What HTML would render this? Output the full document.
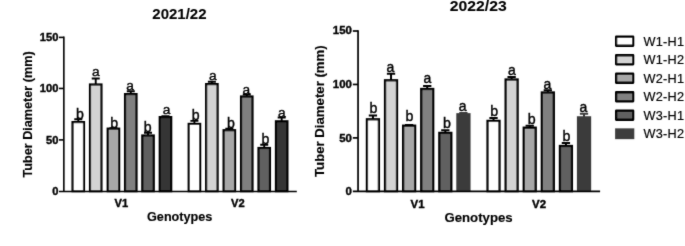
<!DOCTYPE html>
<html><head><meta charset="utf-8"><title>Tuber Diameter</title>
<style>
html,body{margin:0;padding:0;background:#fff;}
svg{display:block;font-family:"Liberation Sans",Arial,sans-serif;fill:#000;}
text{stroke:#000;stroke-width:0.4px;}
</style></head>
<body>
<svg width="685" height="246" viewBox="0 0 685 246">
<defs><filter id="soft" x="0" y="0" width="685" height="246" filterUnits="userSpaceOnUse"><feConvolveMatrix order="3" kernelMatrix="0.02 0.07 0.02 0.07 0.64 0.07 0.02 0.07 0.02" edgeMode="duplicate" preserveAlpha="false"/></filter></defs>
<rect width="685" height="246" fill="#fff"/>
<g filter="url(#soft)">
<g id="chart1">
<path d="M78.28 122.1V119.3M74.28 119.3H82.28" stroke="#000" stroke-width="1.9" fill="none"/>
<rect x="72.55" y="122.1" width="11.45" height="69.05" fill="#ffffff" stroke="#000" stroke-width="2.2"/>
<text x="79.9" y="118.7" font-size="14.1" text-anchor="middle">b</text>
<path d="M95.73 84.5V78.45M91.73 78.45H99.73" stroke="#000" stroke-width="1.9" fill="none"/>
<rect x="90" y="84.5" width="11.45" height="106.65" fill="#d3d3d3" stroke="#000" stroke-width="2.2"/>
<text x="95.75" y="75.6" font-size="13.7" text-anchor="middle">a</text>
<path d="M113.42 128.65V128.2M109.42 128.2H117.42" stroke="#000" stroke-width="1.9" fill="none"/>
<rect x="107.7" y="128.65" width="11.45" height="62.5" fill="#a7a7a7" stroke="#000" stroke-width="2.2"/>
<text x="114.05" y="127.5" font-size="14.1" text-anchor="middle">b</text>
<path d="M130.78 94.1V91.3M126.78 91.3H134.78" stroke="#000" stroke-width="1.9" fill="none"/>
<rect x="125.05" y="94.1" width="11.45" height="97.05" fill="#808080" stroke="#000" stroke-width="2.2"/>
<text x="130.1" y="90.1" font-size="13.7" text-anchor="middle">a</text>
<path d="M148.02 135.5V132.8M144.02 132.8H152.02" stroke="#000" stroke-width="1.9" fill="none"/>
<rect x="142.3" y="135.5" width="11.45" height="55.65" fill="#606060" stroke="#000" stroke-width="2.2"/>
<text x="147.55" y="132" font-size="14.1" text-anchor="middle">b</text>
<path d="M165.47 117.1V116.2M161.47 116.2H169.47" stroke="#000" stroke-width="1.9" fill="none"/>
<rect x="159.75" y="117.1" width="11.45" height="74.05" fill="#363636" stroke="#000" stroke-width="2.2"/>
<text x="166.6" y="114" font-size="13.7" text-anchor="middle">a</text>
<text x="121.3" y="207.15" font-size="11.15" font-weight="bold" text-anchor="middle">V1</text>
<path d="M194.42 123.9V120.9M190.42 120.9H198.42" stroke="#000" stroke-width="1.9" fill="none"/>
<rect x="188.7" y="123.9" width="11.45" height="67.25" fill="#ffffff" stroke="#000" stroke-width="2.2"/>
<text x="195.75" y="120" font-size="14.1" text-anchor="middle">b</text>
<path d="M211.87 84.1V81.7M207.87 81.7H215.87" stroke="#000" stroke-width="1.9" fill="none"/>
<rect x="206.15" y="84.1" width="11.45" height="107.05" fill="#d3d3d3" stroke="#000" stroke-width="2.2"/>
<text x="212.9" y="79.5" font-size="13.7" text-anchor="middle">a</text>
<path d="M229.32 130.2V128.6M225.32 128.6H233.32" stroke="#000" stroke-width="1.9" fill="none"/>
<rect x="223.6" y="130.2" width="11.45" height="60.95" fill="#a7a7a7" stroke="#000" stroke-width="2.2"/>
<text x="230.85" y="128" font-size="14.1" text-anchor="middle">b</text>
<path d="M246.77 96.5V94.5M242.77 94.5H250.77" stroke="#000" stroke-width="1.9" fill="none"/>
<rect x="241.05" y="96.5" width="11.45" height="94.65" fill="#808080" stroke="#000" stroke-width="2.2"/>
<text x="246.2" y="93.9" font-size="13.7" text-anchor="middle">a</text>
<path d="M264.22 148V144.7M260.22 144.7H268.22" stroke="#000" stroke-width="1.9" fill="none"/>
<rect x="258.5" y="148" width="11.45" height="43.15" fill="#606060" stroke="#000" stroke-width="2.2"/>
<text x="265.35" y="144" font-size="14.1" text-anchor="middle">b</text>
<path d="M281.68 121.3V117.5M277.68 117.5H285.68" stroke="#000" stroke-width="1.9" fill="none"/>
<rect x="275.95" y="121.3" width="11.45" height="69.85" fill="#363636" stroke="#000" stroke-width="2.2"/>
<text x="281.7" y="116.7" font-size="13.7" text-anchor="middle">a</text>
<text x="237.8" y="207.15" font-size="11.15" font-weight="bold" text-anchor="middle">V2</text>
<path d="M63.85 36.6V192.25M58.95 191.45H296.8" stroke="#000" stroke-width="1.6" fill="none"/>
<text x="58.35" y="195.25" font-size="11.15" font-weight="bold" text-anchor="end">0</text>
<path d="M58.95 139.9H63.85" stroke="#000" stroke-width="1.6"/>
<text x="58.35" y="143.8" font-size="11.15" font-weight="bold" text-anchor="end">50</text>
<path d="M58.95 88.45H63.85" stroke="#000" stroke-width="1.6"/>
<text x="58.35" y="92.4" font-size="11.15" font-weight="bold" text-anchor="end">100</text>
<path d="M58.95 37.4H63.85" stroke="#000" stroke-width="1.6"/>
<text x="58.35" y="40.85" font-size="11.15" font-weight="bold" text-anchor="end">150</text>
<text x="179.4" y="18.6" font-size="14.4" font-weight="bold" style="stroke-width:0.1px" text-anchor="middle" textLength="54.2" lengthAdjust="spacingAndGlyphs">2021/22</text>
<text x="179.7" y="220.9" font-size="12.65" font-weight="bold" style="stroke-width:0.15px" text-anchor="middle">Genotypes</text>
<text transform="translate(31.75,114.45) rotate(-90)" font-size="12.65" font-weight="bold" style="stroke-width:0.15px" text-anchor="middle">Tuber Diameter (mm)</text>
</g>
<g id="chart2">
<path d="M372.93 119.3V115.4M368.78 115.4H377.07" stroke="#000" stroke-width="2.0" fill="none"/>
<rect x="366.95" y="119.3" width="11.95" height="71.85" fill="#ffffff" stroke="#000" stroke-width="2.3"/>
<text x="373.35" y="113.4" font-size="14.2" text-anchor="middle">b</text>
<path d="M391.03 80.3V73.8M386.88 73.8H395.18" stroke="#000" stroke-width="2.0" fill="none"/>
<rect x="385.05" y="80.3" width="11.95" height="110.85" fill="#d3d3d3" stroke="#000" stroke-width="2.3"/>
<text x="390.4" y="72.2" font-size="14.0" text-anchor="middle">a</text>
<path d="M409.12 125.7V125.1M404.98 125.1H413.27" stroke="#000" stroke-width="2.0" fill="none"/>
<rect x="403.15" y="125.7" width="11.95" height="65.45" fill="#a7a7a7" stroke="#000" stroke-width="2.3"/>
<text x="409.55" y="121.2" font-size="14.2" text-anchor="middle">b</text>
<path d="M427.23 89V86M423.08 86H431.38" stroke="#000" stroke-width="2.0" fill="none"/>
<rect x="421.25" y="89" width="11.95" height="102.15" fill="#808080" stroke="#000" stroke-width="2.3"/>
<text x="427.4" y="83.3" font-size="14.0" text-anchor="middle">a</text>
<path d="M445.33 132.9V130.2M441.18 130.2H449.48" stroke="#000" stroke-width="2.0" fill="none"/>
<rect x="439.35" y="132.9" width="11.95" height="58.25" fill="#606060" stroke="#000" stroke-width="2.3"/>
<text x="446.95" y="128" font-size="14.2" text-anchor="middle">b</text>
<path d="M463.43 114.3V113M459.28 113H467.57" stroke="#3b3b3b" stroke-width="2.0" fill="none"/>
<rect x="456.3" y="113.15" width="14.25" height="78.3" fill="#3b3b3b"/>
<text x="462.7" y="110.6" font-size="14.0" text-anchor="middle">a</text>
<text x="417.55" y="207.6" font-size="11.45" font-weight="bold" text-anchor="middle">V1</text>
<path d="M493.52 120.9V117.9M489.38 117.9H497.67" stroke="#000" stroke-width="2.0" fill="none"/>
<rect x="487.55" y="120.9" width="11.95" height="70.25" fill="#ffffff" stroke="#000" stroke-width="2.3"/>
<text x="494.15" y="116" font-size="14.2" text-anchor="middle">b</text>
<path d="M511.62 79.5V76.9M507.48 76.9H515.77" stroke="#000" stroke-width="2.0" fill="none"/>
<rect x="505.65" y="79.5" width="11.95" height="111.65" fill="#d3d3d3" stroke="#000" stroke-width="2.3"/>
<text x="512" y="74.7" font-size="14.0" text-anchor="middle">a</text>
<path d="M529.73 127.7V125.7M525.58 125.7H533.88" stroke="#000" stroke-width="2.0" fill="none"/>
<rect x="523.75" y="127.7" width="11.95" height="63.45" fill="#a7a7a7" stroke="#000" stroke-width="2.3"/>
<text x="531.75" y="123.8" font-size="14.2" text-anchor="middle">b</text>
<path d="M547.82 92.5V90.3M543.67 90.3H551.97" stroke="#000" stroke-width="2.0" fill="none"/>
<rect x="541.85" y="92.5" width="11.95" height="98.65" fill="#808080" stroke="#000" stroke-width="2.3"/>
<text x="547.4" y="89.3" font-size="14.0" text-anchor="middle">a</text>
<path d="M565.92 146V142.9M561.77 142.9H570.07" stroke="#000" stroke-width="2.0" fill="none"/>
<rect x="559.95" y="146" width="11.95" height="45.15" fill="#606060" stroke="#000" stroke-width="2.3"/>
<text x="566.45" y="140.7" font-size="14.2" text-anchor="middle">b</text>
<path d="M584.02 117.4V113.8M579.88 113.8H588.17" stroke="#3b3b3b" stroke-width="2.0" fill="none"/>
<rect x="576.9" y="116.25" width="14.25" height="75.2" fill="#3b3b3b"/>
<text x="583.4" y="111.6" font-size="14.0" text-anchor="middle">a</text>
<text x="539" y="207.6" font-size="11.45" font-weight="bold" text-anchor="middle">V2</text>
<path d="M358.05 30.15V192.3M352.85 191.45H600.1" stroke="#000" stroke-width="1.7" fill="none"/>
<text x="351.95" y="195.15" font-size="11.45" font-weight="bold" text-anchor="end">0</text>
<path d="M352.85 137.9H358.05" stroke="#000" stroke-width="1.7"/>
<text x="351.95" y="141.6" font-size="11.45" font-weight="bold" text-anchor="end">50</text>
<path d="M352.85 84.45H358.05" stroke="#000" stroke-width="1.7"/>
<text x="351.95" y="88.15" font-size="11.45" font-weight="bold" text-anchor="end">100</text>
<path d="M352.85 31H358.05" stroke="#000" stroke-width="1.7"/>
<text x="351.95" y="34.25" font-size="11.45" font-weight="bold" text-anchor="end">150</text>
<text x="478.25" y="11.4" font-size="15.0" font-weight="bold" style="stroke-width:0.1px" text-anchor="middle" textLength="56.9" lengthAdjust="spacingAndGlyphs">2022/23</text>
<text x="478.55" y="221.75" font-size="13.2" font-weight="bold" style="stroke-width:0.15px" text-anchor="middle">Genotypes</text>
<text transform="translate(324.35,111.15) rotate(-90)" font-size="13.2" font-weight="bold" style="stroke-width:0.15px" text-anchor="middle">Tuber Diameter (mm)</text>
</g>
<g id="legend">
<rect x="616.15" y="36.75" width="17" height="9" fill="#ffffff" stroke="#000" stroke-width="2.3" stroke-linejoin="round"/>
<text x="643.5" y="45.65" font-size="12.7" style="stroke-width:0.2px" textLength="40.6" lengthAdjust="spacing">W1-H1</text>
<rect x="616.15" y="55.25" width="17" height="9" fill="#d3d3d3" stroke="#000" stroke-width="2.3" stroke-linejoin="round"/>
<text x="643.5" y="64.15" font-size="12.7" style="stroke-width:0.2px" textLength="40.6" lengthAdjust="spacing">W1-H2</text>
<rect x="616.15" y="73.75" width="17" height="9" fill="#a7a7a7" stroke="#000" stroke-width="2.3" stroke-linejoin="round"/>
<text x="643.5" y="82.65" font-size="12.7" style="stroke-width:0.2px" textLength="40.6" lengthAdjust="spacing">W2-H1</text>
<rect x="616.15" y="92.25" width="17" height="9" fill="#808080" stroke="#000" stroke-width="2.3" stroke-linejoin="round"/>
<text x="643.5" y="101.15" font-size="12.7" style="stroke-width:0.2px" textLength="40.6" lengthAdjust="spacing">W2-H2</text>
<rect x="616.15" y="110.75" width="17" height="9" fill="#606060" stroke="#000" stroke-width="2.3" stroke-linejoin="round"/>
<text x="643.5" y="119.65" font-size="12.7" style="stroke-width:0.2px" textLength="40.6" lengthAdjust="spacing">W3-H1</text>
<rect x="615.1" y="128.35" width="19.2" height="10.8" fill="#3e3e3e"/>
<text x="643.5" y="138.15" font-size="12.7" style="stroke-width:0.2px" textLength="40.6" lengthAdjust="spacing">W3-H2</text>
</g>
</g>
</svg>
</body></html>
